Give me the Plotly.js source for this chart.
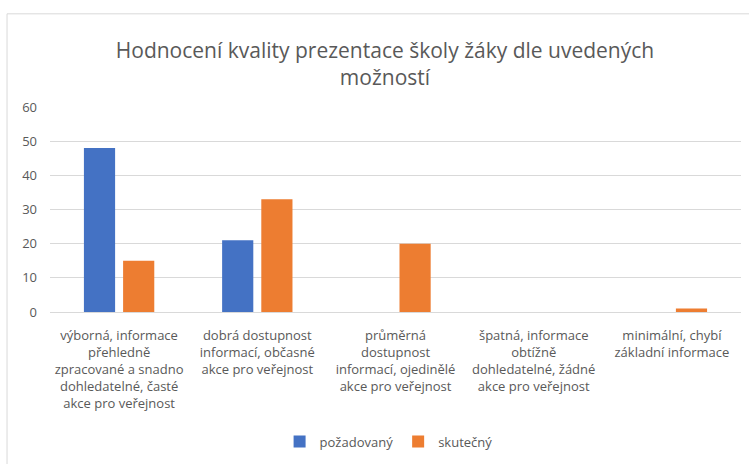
<!DOCTYPE html>
<html>
<head>
<meta charset="utf-8">
<script src="https://cdn.plot.ly/plotly-3.0.1.min.js"></script>
<style>html,body{margin:0;padding:0;background:#fff;}#chart{width:749px;height:464px;}</style>
</head>
<body>
<div id="chart"></div>
<script>
const categories = [
  "výborná, informace<br>přehledně<br>zpracované a snadno<br>dohledatelné, časté<br>akce pro veřejnost",
  "dobrá dostupnost<br>informací, občasné<br>akce pro veřejnost",
  "průměrná<br>dostupnost<br>informací, ojedinělé<br>akce pro veřejnost",
  "špatná, informace<br>obtížně<br>dohledatelné, žádné<br>akce pro veřejnost",
  "minimální, chybí<br>základní informace"
];
const pozadovany = [48, 21, 0, 0, 0];
const skutecny = [15, 33, 20, 0, 1];
const seriesNames = ["požadovaný", "skutečný"];
const yTicks = [0, 10, 20, 30, 40, 50, 60];

const font = "Open Sans, sans-serif";
const gray = "#595959";

const data = [
  {type: "bar", x: categories, y: pozadovany, name: seriesNames[0],
   marker: {color: "#4472C4"}, hoverinfo: "y"},
  {type: "bar", x: categories, y: skutecny, name: seriesNames[1],
   marker: {color: "#ED7D31"}, hoverinfo: "y"}
];

const layout = {
  width: 749, height: 464,
  margin: {l: 50, r: 8, t: 107, b: 148},
  paper_bgcolor: "#fff", plot_bgcolor: "#fff",
  barmode: "group", bargap: 0.433, bargroupgap: 0.204,
  font: {family: font, size: 13, color: gray},
  title: {
    text: "Hodnocení kvality prezentace školy žáky dle uvedených<br>možností",
    font: {family: font, size: 21, color: gray},
    xref: "container", x: 0.514, xanchor: "center",
    yref: "container", y: 0.876, yanchor: "middle"
  },
  xaxis: {
    type: "category", showgrid: false, showline: false, zeroline: false,
    ticks: "", ticklabelstandoff: 14,
    tickfont: {family: font, size: 13, color: gray}
  },
  yaxis: {
    range: [0, 60], tickvals: yTicks, showgrid: true, gridcolor: "#D9D9D9",
    gridwidth: 1, zeroline: true, zerolinecolor: "#D9D9D9", zerolinewidth: 1,
    showline: false, ticks: "", ticklabelstandoff: 12,
    tickfont: {family: font, size: 13, color: gray}
  },
  showlegend: true,
  legend: {
    orientation: "h", x: 0.49, xanchor: "center", y: -0.632, yanchor: "middle",
    font: {family: font, size: 13, color: gray}, itemwidth: 30, traceorder: "normal"
  },
  shapes: [{
    type: "rect", xref: "paper", yref: "paper",
    x0: -0.0622, x1: 1.2, y0: -0.9, y1: 1.4545,
    line: {color: "#D9D9D9", width: 1}, fillcolor: "rgba(0,0,0,0)", layer: "below"
  }]
};

Plotly.newPlot("chart", data, layout, {displayModeBar: false, staticPlot: true});
</script>
</body>
</html>
